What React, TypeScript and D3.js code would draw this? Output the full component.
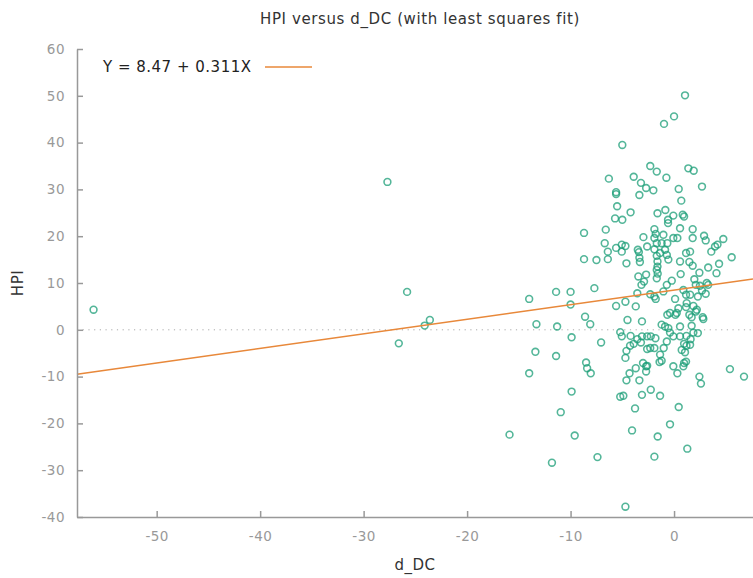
import { useEffect, useRef } from 'react';
import * as d3 from 'd3';

const WIDTH = 753;
const HEIGHT = 578;

// fitted line: Y = 8.47 + 0.311X
const intercept = 8.47;
const slope = 0.311;

const xTicks = [-50, -40, -30, -20, -10, 0];
const yTicks = [-40, -30, -20, -10, 0, 10, 20, 30, 40, 50, 60];

// d_DC, HPI pairs
const dDC = [
  -56.1, -27.7, -25.8, -26.6, -24.1, -23.6,
  -15.9, -14.0, -14.0, -13.4, -13.3, -11.8, -11.4, -11.4, -11.3, -10.95, -10.0, -10.0, -9.9, -9.9, -9.6,
  -8.7, -8.7, -8.6, -8.5, -8.4, -8.1, -8.05, -7.7, -7.5, -7.4, -7.05,
  -6.6, -6.7, -6.4, -6.4, -6.3, -5.7, -5.0, -5.5, -5.6, -5.6, -5.0, -5.6, -5.05, -4.7, -5.05, -5.6,
  -5.2, -5.05, -5.2, -4.7, -4.5, -4.2, -4.6, -4.2, -4.25, -4.6, -4.3, -4.6, -4.9, -4.06, -4.7, -4.7, -3.9,
  -3.9, -3.2, -3.35, -2.7, -2.0, -2.3, -1.67, -0.74, -1.6, -0.84, -0.07, 0.84, 0.97, 0.7, 0.45, 2.7, 1.38, 1.9, 1.06, 0.0, -0.97,
  -0.58, -0.58, -2.96, -1.9, -1.77, -1.9, -1.03, -0.07, 0.32, 0.58, 1.8, 1.8, 2.9, 3.06, 4.76, 4.2,
  -3.5, -3.4, -2.6, -1.67, -1.2, -0.65, -0.87, -0.7, -1.9, -1.67, -1.35, 1.16, 1.55, 3.6, 3.96,
  -3.35, -3.3, -1.6, -1.6, -0.55, 0.58, 1.48, 1.8, 5.57, 4.35, 3.3, 4.1, 2.45,
  -1.67, -1.58, -2.7, -3.45, 0.64, -1.67, -2.9, -3.15, -0.22, -0.7, 1.96, 2.1, 3.16, 3.3, 2.5, 2.7,
  0.9, 1.16, 1.55, 3.06, 2.3, -3.55, -2.3, -1.9, -1.77, -1.03, -3.7, 0.1, 1.22, 1.16, 0.42, 0.26, 0.13,
  1.87, 2.2, -0.65, -0.39, 1.48, 1.7, 2.77, 2.83, 2.1, -3.1, -1.2, -0.87, -0.55, 0.58, 1.7, 2.3,
  -3.1, -2.6, -2.25, -0.07, 0.58,
  -3.55, -3.2, -1.8, -2.6, -1.9, -1.35, -1.4, -1.2, -3.0, -2.7, -2.6, -2.7, -3.7, -0.07, 0.32, 0.97, 1.16, 0.9,
  1.06, 0.97, 1.2, 1.55, 1.2, 1.6, 1.87, -0.39, 2.45, 2.6, 5.4, 6.76,
  -3.35, -3.1, -2.25, -1.35, -3.77, 0.45, -0.39, -1.58, -1.9, 1.28,
  -0.7, -1.0, 0.74, -2.3,
];

const hpi = [
  4.3, 31.6, 8.1, -2.9, 0.9, 2.1,
  -22.4, 6.6, -9.3, -4.7, 1.2, -28.4, 8.1, -5.6, 0.7, -17.6, 8.1, 5.4, -1.6, -13.2, -22.6,
  20.7, 15.1, 2.8, -7.0, -8.2, 1.2, -9.3, 8.9, 14.9, -27.2, -2.7,
  21.4, 18.5, 16.7, 15.1, 32.3, 23.8, 23.5, 26.4, 29.4, 29.0, 39.5, 17.5, 18.2, 17.9, 16.7, 5.1,
  -0.5, -1.4, -14.3, 6.0, 2.1, 25.1, 14.2, -1.3, -3.4, -4.5, -9.3, -10.8, -14.1, -21.5, -37.8, -6.0, -3.0,
  32.7, 31.4, 28.8, 30.3, 29.8, 35.0, 33.8, 32.5, 24.9, 25.6, 24.4, 24.6, 24.2, 27.6, 30.1, 30.6, 34.5, 34.0, 50.1, 45.6, 44.0,
  23.5, 22.8, 19.8, 21.5, 20.5, 19.6, 20.3, 19.6, 19.6, 21.7, 21.5, 19.6, 20.1, 19.1, 19.4, 18.2,
  17.1, 16.6, 17.8, 18.5, 18.5, 18.5, 17.1, 16.0, 17.2, 15.8, 16.4, 16.4, 16.7, 16.7, 17.8,
  15.4, 14.5, 14.6, 13.5, 15.0, 14.6, 14.5, 13.7, 15.5, 14.1, 13.3, 12.1, 12.2,
  12.8, 12.0, 11.8, 11.4, 11.9, 11.0, 10.3, 9.6, 10.5, 9.6, 10.8, 9.6, 10.0, 9.6, 9.4, 8.4,
  8.5, 7.5, 7.5, 7.7, 7.1, 7.8, 7.6, 7.1, 6.6, 8.2, 5.0, 6.6, 5.7, 4.85, 4.6, 3.6, 3.2,
  5.1, 4.3, 3.2, 3.6, 3.2, 2.7, 2.7, 2.3, 3.9, 1.8, 1.1, 0.7, 0.36, 0.7, 0.85, -0.7,
  -1.4, -1.4, -1.4, -1.4, -1.4,
  -2.0, -2.7, -1.8, -4.1, -3.9, -5.3, -6.9, -6.6, -7.1, -7.8, -7.7, -8.9, -8.2, -7.8, -9.3, -7.1, -6.8, -7.8,
  -4.8, -3.0, -3.4, -3.2, -1.3, -2.0, -0.6, -0.6, -10.0, -11.5, -8.4, -10.0,
  -10.8, -13.9, -12.8, -14.1, -16.8, -16.5, -20.2, -22.8, -27.1, -25.4,
  -2.5, -3.9, -4.3, -3.9,
];

const HpiScatter = () => {
  const svgRef = useRef(null);

  useEffect(() => {
    const margin = { top: 49, right: 0, bottom: 61, left: 77 };
    const width = WIDTH - margin.left - margin.right;
    const height = HEIGHT - margin.top - margin.bottom;
    const font = '"DejaVu Sans", sans-serif';

    const svg = d3.select(svgRef.current);
    svg.selectAll('*').remove();

    const x = d3.scaleLinear().domain([-57.7, 7.63]).range([0, width]);
    const y = d3.scaleLinear().domain([-40, 60]).range([height, 0]);

    svg.append('text')
      .attr('x', 420).attr('y', 24)
      .attr('text-anchor', 'middle')
      .attr('font-family', font).attr('font-size', 15)
      .attr('letter-spacing', 0.6)
      .attr('fill', '#333')
      .text('HPI versus d_DC (with least squares fit)');

    const g = svg.append('g').attr('transform', `translate(${margin.left},${margin.top})`);

    // zero line
    g.append('line')
      .attr('x1', 0).attr('x2', width)
      .attr('y1', y(0)).attr('y2', y(0))
      .attr('stroke', '#aaa')
      .attr('stroke-dasharray', '1.2,4.5');

    // points
    g.append('g').selectAll('circle')
      .data(dDC.map((d, i) => [d, hpi[i]]))
      .enter()
      .append('circle')
      .attr('cx', d => x(d[0]))
      .attr('cy', d => y(d[1]))
      .attr('r', 3.4)
      .attr('fill', 'none')
      .attr('stroke', '#1b9e77')
      .attr('stroke-opacity', 0.75)
      .attr('stroke-width', 1.6);

    // fit line
    const fit = d3.line().x(d => x(d)).y(d => y(intercept + slope * d));
    g.append('path')
      .attr('d', fit(x.domain()))
      .attr('fill', 'none')
      .attr('stroke', '#e8883a')
      .attr('stroke-width', 1.5);

    // axes (ticks point inward, as gnuplot draws them)
    const xAxis = g.append('g')
      .attr('transform', `translate(0,${height})`)
      .call(d3.axisBottom(x).tickValues(xTicks).tickSize(-6).tickPadding(14).tickSizeOuter(0)
        .tickFormat(d => String(d)));
    const yAxis = g.append('g')
      .call(d3.axisLeft(y).tickValues(yTicks).tickSize(-6).tickPadding(12).tickSizeOuter(0)
        .tickFormat(d => String(d)));

    [xAxis, yAxis].forEach(a => {
      a.select('.domain').attr('stroke', '#999').attr('stroke-width', 1.5);
      a.selectAll('.tick line').attr('stroke', '#999').attr('stroke-width', 1.5);
      a.selectAll('.tick text')
        .attr('fill', '#999')
        .attr('font-family', font)
        .attr('font-size', 13.5)
        .attr('letter-spacing', 0.5);
    });

    // legend
    svg.append('text')
      .attr('x', 103).attr('y', 72)
      .attr('font-family', font).attr('font-size', 15)
      .attr('letter-spacing', 0.5)
      .attr('fill', '#222')
      .text('Y = 8.47 + 0.311X');
    svg.append('line')
      .attr('x1', 265).attr('x2', 312)
      .attr('y1', 67).attr('y2', 67)
      .attr('stroke', '#e8883a')
      .attr('stroke-width', 1.5);

    // axis titles
    svg.append('text')
      .attr('x', margin.left + width / 2).attr('y', 570)
      .attr('text-anchor', 'middle')
      .attr('font-family', font).attr('font-size', 15)
      .attr('letter-spacing', 0.5)
      .attr('fill', '#333')
      .text('d_DC');
    svg.append('text')
      .attr('transform', `translate(23,${margin.top + height / 2}) rotate(-90)`)
      .attr('text-anchor', 'middle')
      .attr('font-family', font).attr('font-size', 15)
      .attr('letter-spacing', 0.5)
      .attr('fill', '#333')
      .text('HPI');
  }, []);

  return (
    <svg ref={svgRef} width={WIDTH} height={HEIGHT}
      style={{ position: 'absolute', left: 0, top: 0, background: '#fff' }} />
  );
};

export default function App() {
  return <HpiScatter />;
}
